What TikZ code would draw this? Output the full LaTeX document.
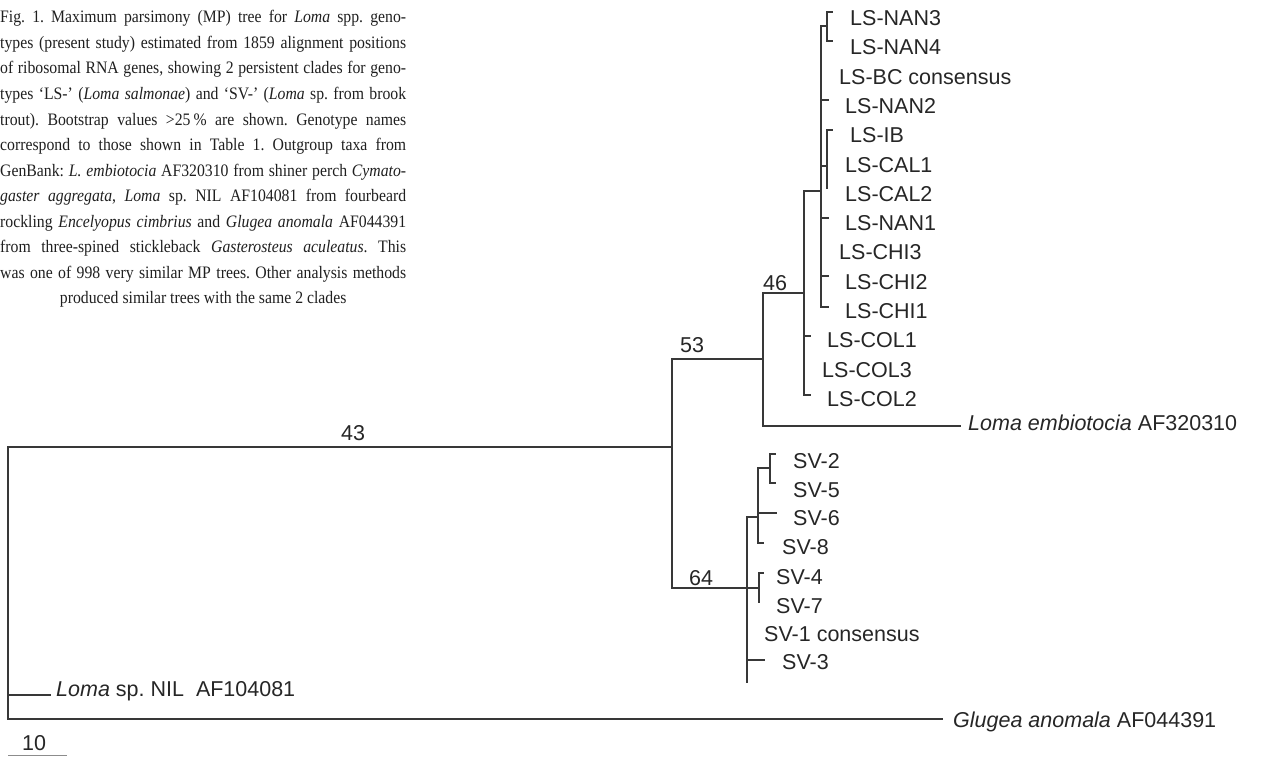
\documentclass[tikz,border=0pt]{standalone}
\usepackage{fontspec}
\setmainfont{Liberation Serif}[FakeStretch=0.9]
\newfontfamily\treefont{Liberation Sans}
\frenchspacing
\tikzset{
  br/.style={line width=1.3pt, draw=black!78, line cap=rect},
  lab/.style={anchor=base west, inner sep=0pt, font=\treefont\fontsize{21.5}{24}\selectfont, text=black!85},
  capline/.style={anchor=base west, inner sep=0pt, font=\fontsize{17.5}{21}\selectfont, text=black!88},
}
\begin{document}
\begin{tikzpicture}[x=1pt,y=-1pt]
\useasboundingbox (0,0) rectangle (1263,757);
% caption
\node[capline] (c1) at (0,23) {\makebox[406pt][s]{Fig. 1. Maximum parsimony (MP) tree for \textit{Loma} spp. geno-}};
\node[capline] (c2) at (0,48.5) {\makebox[406pt][s]{types (present study) estimated from 1859 alignment positions}};
\node[capline] (c3) at (0,74) {\makebox[406pt][s]{of ribosomal RNA genes, showing 2 persistent clades for geno-}};
\node[capline] (c4) at (0,99.5) {\makebox[406pt][s]{types ‘LS-’ (\textit{Loma salmonae}) and ‘SV-’ (\textit{Loma} sp. from brook}};
\node[capline] (c5) at (0,125) {\makebox[406pt][s]{trout). Bootstrap values >25\,\% are shown. Genotype names}};
\node[capline] (c6) at (0,150.5) {\makebox[406pt][s]{correspond to those shown in Table 1. Outgroup taxa from}};
\node[capline] (c7) at (0,176) {\makebox[406pt][s]{GenBank: \textit{L. embiotocia} AF320310 from shiner perch \textit{Cymato-}}};
\node[capline] (c8) at (0,201.5) {\makebox[406pt][s]{\textit{gaster aggregata}, \textit{Loma} sp. NIL AF104081 from fourbeard}};
\node[capline] (c9) at (0,227) {\makebox[406pt][s]{rockling \textit{Encelyopus cimbrius} and \textit{Glugea anomala} AF044391}};
\node[capline] (c10) at (0,252.5) {\makebox[406pt][s]{from three-spined stickleback \textit{Gasterosteus aculeatus}. This}};
\node[capline] (c11) at (0,278) {\makebox[406pt][s]{was one of 998 very similar MP trees. Other analysis methods}};
\node[capline] (c12) at (0,303.5) {\makebox[406pt][c]{produced similar trees with the same 2 clades}};

% ---- tree coordinates ----
\coordinate (R) at (8,447);
\coordinate (Rnil) at (8,695);
\coordinate (Rglu) at (8,719);
\coordinate (Enil) at (50,695);
\coordinate (Eglu) at (942,719);
\coordinate (A) at (672,447);
\coordinate (A53) at (672,359);
\coordinate (A64) at (672,588);
\coordinate (B) at (763,359);
\coordinate (B46) at (763,293);
\coordinate (Bemb) at (763,426);
\coordinate (Eemb) at (960,426);
\coordinate (C) at (804,293);
\coordinate (C1) at (804,191);
\coordinate (C2) at (804,395);
\coordinate (Scol1) at (804,336);
\coordinate (Ecol1) at (810,336);
\coordinate (Ecol2) at (810,395);
\coordinate (D) at (821,191);
\coordinate (D1) at (821,26);
\coordinate (D2) at (821,307);
\coordinate (Snan2) at (821,100);
\coordinate (Sic) at (821,166);
\coordinate (Snan1) at (821,218);
\coordinate (Schi2) at (821,276);
\coordinate (N34) at (827,26);
\coordinate (N34a) at (827,12);
\coordinate (N34b) at (827,41);
\coordinate (Enan3) at (832,12);
\coordinate (Enan4) at (832,41);
\coordinate (Enan2) at (828,100);
\coordinate (IC) at (827,166);
\coordinate (ICa) at (827,130);
\coordinate (ICb) at (827,188);
\coordinate (Eib) at (832,130);
\coordinate (Enan1) at (828,218);
\coordinate (Echi2) at (828,276);
\coordinate (Echi1) at (828,307);
% SV clade
\coordinate (S) at (747,588);
\coordinate (S1) at (747,517);
\coordinate (S2) at (747,682);
\coordinate (T) at (758,517);
\coordinate (T1) at (758,468);
\coordinate (T2) at (758,543);
\coordinate (Tsv6) at (758,513);
\coordinate (U) at (770,468);
\coordinate (U1) at (770,454);
\coordinate (U2) at (770,483);
\coordinate (Esv2) at (775,454);
\coordinate (Esv5) at (775,483);
\coordinate (Esv6) at (776,513);
\coordinate (Esv8) at (763,543);
\coordinate (V) at (759,588);
\coordinate (V1) at (759,573);
\coordinate (V2) at (759,602);
\coordinate (Esv4) at (763,573);
\coordinate (Esv3) at (764,660);
\coordinate (Ssv3) at (747,660);
\coordinate (sb1) at (8,755);
\coordinate (sb2) at (67,755);

% ---- branches ----
\draw[br] (R) -- (Rglu);
\draw[br] (Rnil) -- (Enil);
\draw[br] (Rglu) -- (Eglu);
\draw[br] (R) -- (A);
\draw[br] (A53) -- (A64);
\draw[br] (A53) -- (B);
\draw[br] (B46) -- (Bemb);
\draw[br] (Bemb) -- (Eemb);
\draw[br] (B46) -- (C);
\draw[br] (C1) -- (C2);
\draw[br] (C2) -- (Ecol2);
\draw[br] (Scol1) -- (Ecol1);
\draw[br] (C1) -- (D);
\draw[br] (D1) -- (D2);
\draw[br] (D1) -- (N34);
\draw[br] (N34a) -- (N34b);
\draw[br] (N34a) -- (Enan3);
\draw[br] (N34b) -- (Enan4);
\draw[br] (Snan2) -- (Enan2);
\draw[br] (Sic) -- (IC);
\draw[br] (ICa) -- (ICb);
\draw[br] (ICa) -- (Eib);
\draw[br] (Snan1) -- (Enan1);
\draw[br] (Schi2) -- (Echi2);
\draw[br] (D2) -- (Echi1);
\draw[br] (A64) -- (S);
\draw[br] (S1) -- (S2);
\draw[br] (S1) -- (T);
\draw[br] (T1) -- (T2);
\draw[br] (T1) -- (U);
\draw[br] (U1) -- (U2);
\draw[br] (U1) -- (Esv2);
\draw[br] (U2) -- (Esv5);
\draw[br] (Tsv6) -- (Esv6);
\draw[br] (T2) -- (Esv8);
\draw[br] (S) -- (V);
\draw[br] (V1) -- (V2);
\draw[br] (V1) -- (Esv4);
\draw[br] (Ssv3) -- (Esv3);
\draw[line width=0.9pt, draw=black!45] (sb1) -- (sb2);

% ---- tip labels ----
\node[lab] (nan3) at (850,25.5) {LS-NAN3};
\node[lab] (nan4) at (850,54.5) {LS-NAN4};
\node[lab] (bc) at (839,84.5) {LS-BC consensus};
\node[lab] (nan2) at (845,113.5) {LS-NAN2};
\node[lab] (ib) at (850,142.5) {LS-IB};
\node[lab] (cal1) at (845,172.5) {LS-CAL1};
\node[lab] (cal2) at (845,201.5) {LS-CAL2};
\node[lab] (nan1) at (845,230.5) {LS-NAN1};
\node[lab] (chi3) at (839,259.5) {LS-CHI3};
\node[lab] (chi2) at (845,289.5) {LS-CHI2};
\node[lab] (chi1) at (845,318.5) {LS-CHI1};
\node[lab] (col1) at (827,347.5) {LS-COL1};
\node[lab] (col3) at (822,377.5) {LS-COL3};
\node[lab] (col2) at (827,406.5) {LS-COL2};
\node[lab] (emb) at (968,430) {\textit{Loma embiotocia} AF320310};
\node[lab] (sv2) at (793,468.5) {SV-2};
\node[lab] (sv5) at (793,497.5) {SV-5};
\node[lab] (sv6) at (793,525.5) {SV-6};
\node[lab] (sv8) at (782,554.5) {SV-8};
\node[lab] (sv4) at (776,584.5) {SV-4};
\node[lab] (sv7) at (776,613.5) {SV-7};
\node[lab] (sv1) at (764,641.5) {SV-1 consensus};
\node[lab] (sv3) at (782,669.5) {SV-3};
\node[lab] (nil) at (56,696) {\textit{Loma} sp. NIL\ \ AF104081};
\node[lab] (glu) at (953,727) {\textit{Glugea anomala} AF044391};
% bootstrap values and scale
\node[lab] (b43) at (341,440) {43};
\node[lab] (b53) at (680,352) {53};
\node[lab] (b46) at (763,290) {46};
\node[lab] (b64) at (689,585) {64};
\node[lab] (s10) at (22,750) {10};
\end{tikzpicture}
\end{document}
